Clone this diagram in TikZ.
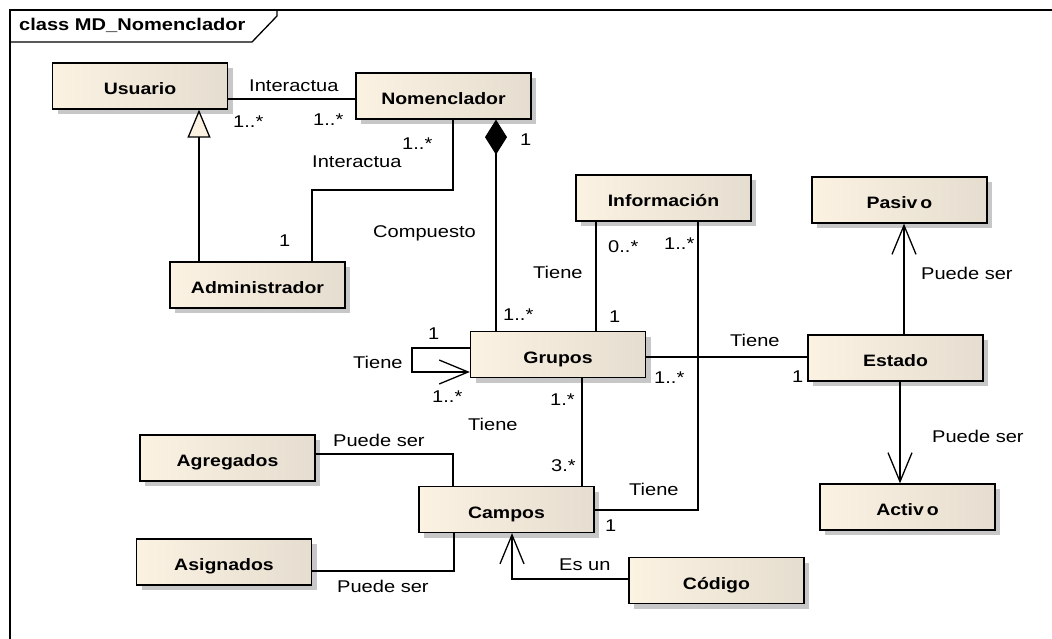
\documentclass[tikz,border=0pt]{standalone}
\usepackage{fontspec}
\setmainfont{Liberation Sans}[FakeStretch=1.18]
\usepackage{tikz}
\usetikzlibrary{arrows.meta,shadows}

\definecolor{boxl}{RGB}{251,242,226}
\definecolor{boxr}{RGB}{229,221,207}

\begin{document}
\begin{tikzpicture}[x=1pt,y=-1pt,
    cls/.style={draw,line width=1.3pt,minimum width=175pt,minimum height=46pt,inner sep=0pt,
      text height=17pt,text depth=0pt,
      left color=boxl,right color=boxr,font=\bfseries\fontsize{16.5}{20}\selectfont,
      drop shadow={shadow xshift=5pt,shadow yshift=-5pt,fill=black!22,opacity=1}},
    lbl/.style={inner sep=0pt,anchor=base west,font=\fontsize{17}{20}\selectfont},
    conn/.style={line width=1.3pt},
    gen/.style={-{Triangle[length=28pt,width=23pt,fill=boxl]}},
    comp/.style={{Diamond[length=35pt,width=22pt]}-},
    nav/.style={-{Straight Barb[length=29pt,width=24pt]}}]
        \useasboundingbox (0,0) rectangle (1052,639);

        \draw [line width=1.6pt] (10,639) -- (10,10) -- (1052,10);
        \draw [line width=1.3pt] (10,42) -- (252,42) -- (277,16) -- (277,10);
        \node [lbl,font=\bfseries\fontsize{17}{20}\selectfont] (titulo) at (19,31) {class MD\_Nomenclador};

        \node [cls] (usuario) at (140,86) {Usuario};
        \node [cls] (nomenclador) at (443.5,96) {Nomenclador};
        \node [cls] (administrador) at (257.5,285) {Administrador};
        \node [cls] (informacion) at (663.5,198) {Información};
        \node [cls] (grupos) at (558,354.5) {Grupos};
        \node [cls] (campos) at (506.5,509.5) {Campos};
        \node [cls] (agregados) at (227.5,458) {Agregados};
        \node [cls] (asignados) at (224,562) {Asignados};
        \node [cls] (codigo) at (716.5,580.5) {Código};
        \node [cls] (pasivo) at (899.5,200) {Pasiv\kern3pt o};
        \node [cls] (estado) at (895.5,358) {Estado};
        \node [cls] (activo) at (907.5,507) {Activ\kern3pt o};

        \draw [conn] (usuario.east |- 0,99) -- (nomenclador.west |- 0,99);
        \draw [conn,gen] (administrador.north -| 199,0) -- (usuario.south -| 199,0);
        \draw [conn] (nomenclador.south -| 453,0) |- (312,190) -- (administrador.north -| 312,0);
        \draw [conn,comp] (nomenclador.south -| 496,0) -- (grupos.north -| 496,0);
        \draw [conn] (informacion.south -| 596,0) -- (grupos.north -| 596,0);
        \draw [conn] (informacion.south -| 698,0) |- (campos.east |- 0,510);
        \draw [conn] (grupos.east |- 0,357) -- (estado.west |- 0,357);
        \draw [conn] (grupos.south -| 582,0) -- (campos.north -| 582,0);
        \draw [conn,nav] (grupos.west |- 0,348) -| (412,372) -- (grupos.west |- 0,372);
        \draw [conn] (agregados.east |- 0,454) -| (campos.north -| 453,0);
        \draw [conn] (asignados.east |- 0,571) -| (campos.south -| 454,0);
        \draw [conn,nav] (codigo.west |- 0,579) -| (campos.south -| 512,0);
        \draw [conn,nav] (estado.north -| 904,0) -- (pasivo.south -| 904,0);
        \draw [conn,nav] (estado.south -| 900,0) -- (activo.north -| 900,0);

        \node [lbl] (iUN) at (249,92) {Interactua};
        \node [lbl] (mU) at (233,128) {1..*};
        \node [lbl] (mN) at (313,126) {1..*};
        \node [lbl] (mNA) at (402,150) {1..*};
        \node [lbl] (iNA) at (312,168) {Interactua};
        \node [lbl] (mA) at (279,247) {1};
        \node [lbl] (mNG) at (520,146) {1};
        \node [lbl] (cNG) at (373,237) {Compuesto};
        \node [lbl] (mGN) at (503,320) {1..*};
        \node [lbl] (mIG) at (608,252) {0..*};
        \node [lbl] (mIC) at (664,250) {1..*};
        \node [lbl] (tIG) at (533,278) {Tiene};
        \node [lbl] (mGI) at (609,322) {1};
        \node [lbl] (tGE) at (730,346) {Tiene};
        \node [lbl] (mGE) at (654,383) {1..*};
        \node [lbl] (mEG) at (792,382) {1};
        \node [lbl] (mGC) at (550,405) {1.*};
        \node [lbl] (tGC) at (468,430) {Tiene};
        \node [lbl] (mCG) at (551,471) {3.*};
        \node [lbl] (tIC) at (629,495) {Tiene};
        \node [lbl] (mCI) at (605,531) {1};
        \node [lbl] (eCC) at (559,570) {Es un};
        \node [lbl] (mGG) at (428,339) {1};
        \node [lbl] (tGG) at (353,368) {Tiene};
        \node [lbl] (mGGb) at (432,402) {1..*};
        \node [lbl] (pAC) at (333,446) {Puede ser};
        \node [lbl] (pSC) at (337,592) {Puede ser};
        \node [lbl] (pEP) at (921,279) {Puede ser};
        \node [lbl] (pEA) at (932,442) {Puede ser};
      \end{tikzpicture}
\end{document}
